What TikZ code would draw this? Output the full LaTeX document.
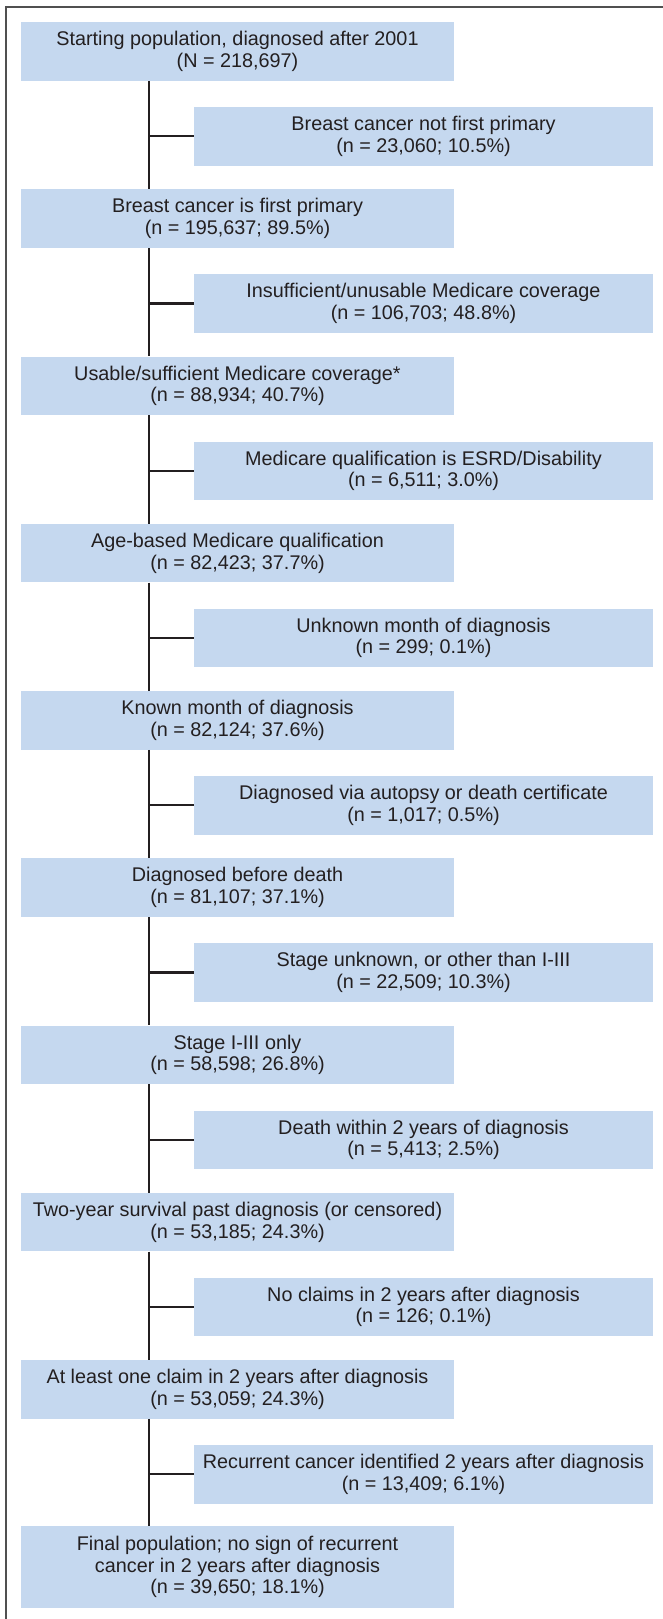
\documentclass[tikz,border=0pt]{standalone}
\usepackage{fontspec}
\setmainfont{Liberation Sans}
\definecolor{boxblue}{RGB}{197,216,239}
\definecolor{ink}{RGB}{35,31,32}
\definecolor{framegray}{RGB}{80,80,80}
\begin{document}
\begin{tikzpicture}[x=1pt,y=-1pt,
  every node/.style={font=\fontsize{19.8}{21.6}\selectfont, text=ink, align=center, inner sep=0pt},
  mainbox/.style={fill=boxblue, minimum width=433pt, minimum height=58.7pt},
  sidebox/.style={fill=boxblue, minimum width=459pt, minimum height=58.5pt},
  link/.style={draw=ink, line width=2.2pt},
  framel/.style={draw=framegray, line width=1.2pt}]
\useasboundingbox (0,0) rectangle (663,1619);
\draw[framel] (663,7) -- (6,7) -- (6,1619);
\coordinate (spine) at (149,0);
\node[mainbox] (m0) at (237.5,51.35) {Starting population, diagnosed after 2001\\(N = 218,697)};
\node[sidebox] (s0) at (423.5,136.25) {Breast cancer not first primary\\(n = 23,060; 10.5\%)};
\node[mainbox] (m1) at (237.5,218.6) {Breast cancer is first primary\\(n = 195,637; 89.5\%)};
\node[sidebox] (s1) at (423.5,303.5) {Insufficient/unusable Medicare coverage\\(n = 106,703; 48.8\%)};
\node[mainbox] (m2) at (237.5,385.85) {Usable/sufficient Medicare coverage*\\(n = 88,934; 40.7\%)};
\node[sidebox] (s2) at (423.5,470.75) {Medicare qualification is ESRD/Disability\\(n = 6,511; 3.0\%)};
\node[mainbox] (m3) at (237.5,553.1) {Age-based Medicare qualification\\(n = 82,423; 37.7\%)};
\node[sidebox] (s3) at (423.5,638.0) {Unknown month of diagnosis\\(n = 299; 0.1\%)};
\node[mainbox] (m4) at (237.5,720.35) {Known month of diagnosis\\(n = 82,124; 37.6\%)};
\node[sidebox] (s4) at (423.5,805.25) {Diagnosed via autopsy or death certificate\\(n = 1,017; 0.5\%)};
\node[mainbox] (m5) at (237.5,887.6) {Diagnosed before death\\(n = 81,107; 37.1\%)};
\node[sidebox] (s5) at (423.5,972.5) {Stage unknown, or other than I-III\\(n = 22,509; 10.3\%)};
\node[mainbox] (m6) at (237.5,1054.85) {Stage I-III only\\(n = 58,598; 26.8\%)};
\node[sidebox] (s6) at (423.5,1139.75) {Death within 2 years of diagnosis\\(n = 5,413; 2.5\%)};
\node[mainbox] (m7) at (237.5,1222.1) {Two-year survival past diagnosis (or censored)\\(n = 53,185; 24.3\%)};
\node[sidebox] (s7) at (423.5,1307.0) {No claims in 2 years after diagnosis\\(n = 126; 0.1\%)};
\node[mainbox] (m8) at (237.5,1389.35) {At least one claim in 2 years after diagnosis\\(n = 53,059; 24.3\%)};
\node[sidebox] (s8) at (423.5,1474.25) {Recurrent cancer identified 2 years after diagnosis\\(n = 13,409; 6.1\%)};
\node[mainbox, minimum height=82pt] (m9) at (237.5,1567) {Final population; no sign of recurrent\\cancer in 2 years after diagnosis\\(n = 39,650; 18.1\%)};
\foreach \i [evaluate=\i as \j using int(\i+1)] in {0,...,8} {
  \draw[link] (spine |- m\i.south) -- (spine |- m\j.north);
  \draw[link] (spine |- s\i.west) -- (s\i.west);
}
\end{tikzpicture}
\end{document}
